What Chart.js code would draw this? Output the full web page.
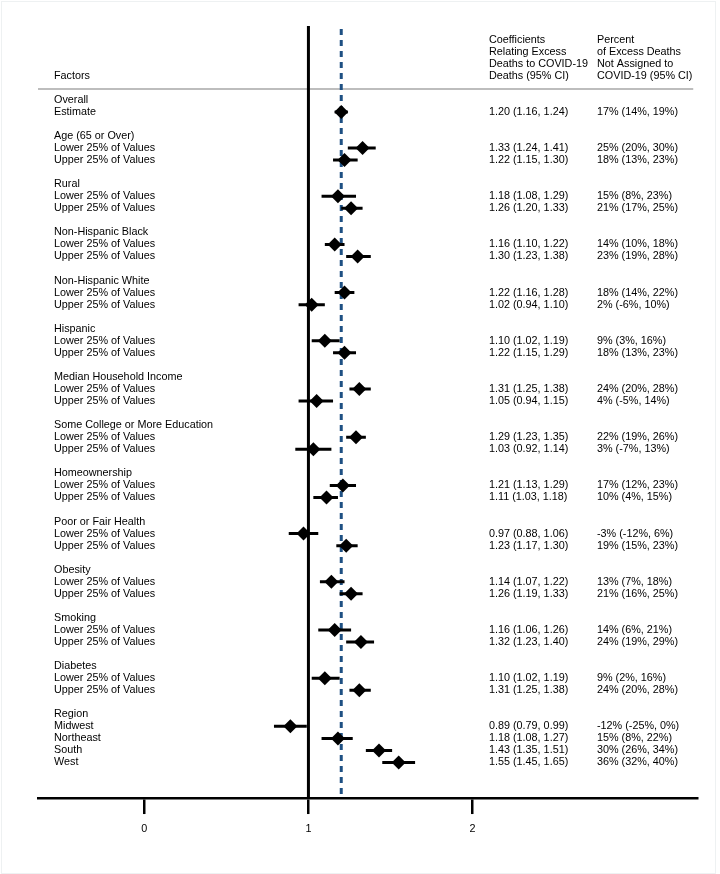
<!DOCTYPE html>
<html>
<head>
<meta charset="utf-8">
<script src="https://cdn.jsdelivr.net/npm/chart.js@4/dist/chart.umd.min.js"></script>
<style>
  html, body { margin: 0; padding: 0; background: #fff; }
  #wrap { position: relative; width: 720px; height: 874px; }
  #frame { position: absolute; left: 1px; top: 1px; width: 713px; height: 871px;
           border: 1px solid #eef1f2; pointer-events: none; }
</style>
</head>
<body>
<div id="wrap"><canvas id="forest" width="720" height="874"></canvas><div id="frame"></div></div>
<script>
/* ---------------- Data ---------------- */

const groupNames = ["Overall", "Age (65 or Over)", "Rural", "Non-Hispanic Black",
    "Non-Hispanic White", "Hispanic", "Median Household Income",
    "Some College or More Education", "Homeownership", "Poor or Fair Health",
    "Obesity", "Smoking", "Diabetes", "Region"];

const Q = ["Lower 25% of Values", "Upper 25% of Values"];
const rowNames = [["Estimate"], Q, Q, Q, Q, Q, Q, Q, Q, Q, Q, Q, Q,
    ["Midwest", "Northeast", "South", "West"]];

const coef = [[1.20], [1.33, 1.22], [1.18, 1.26], [1.16, 1.30], [1.22, 1.02],
    [1.10, 1.22], [1.31, 1.05], [1.29, 1.03], [1.21, 1.11], [0.97, 1.23],
    [1.14, 1.26], [1.16, 1.32], [1.10, 1.31], [0.89, 1.18, 1.43, 1.55]];
const coefLow = [[1.16], [1.24, 1.15], [1.08, 1.20], [1.10, 1.23], [1.16, 0.94],
    [1.02, 1.15], [1.25, 0.94], [1.23, 0.92], [1.13, 1.03], [0.88, 1.17],
    [1.07, 1.19], [1.06, 1.23], [1.02, 1.25], [0.79, 1.08, 1.35, 1.45]];
const coefHigh = [[1.24], [1.41, 1.30], [1.29, 1.33], [1.22, 1.38], [1.28, 1.10],
    [1.19, 1.29], [1.38, 1.15], [1.35, 1.14], [1.29, 1.18], [1.06, 1.30],
    [1.22, 1.33], [1.26, 1.40], [1.19, 1.38], [0.99, 1.27, 1.51, 1.65]];

const pct = [[17], [25, 18], [15, 21], [14, 23], [18, 2], [9, 18], [24, 4],
    [22, 3], [17, 10], [-3, 19], [13, 21], [14, 24], [9, 24], [-12, 15, 30, 36]];
const pctLow = [[14], [20, 13], [8, 17], [10, 19], [14, -6], [3, 13], [20, -5],
    [19, -7], [12, 4], [-12, 15], [7, 16], [6, 19], [2, 20], [-25, 8, 26, 32]];
const pctHigh = [[19], [30, 23], [23, 25], [18, 28], [22, 10], [16, 23], [28, 14],
    [26, 13], [23, 15], [6, 23], [18, 25], [21, 29], [16, 28], [0, 22, 34, 40]];

const xTicks = [0, 1, 2];

const factorsHeader = "Factors";
const coefHeader = ["Coefficients", "Relating Excess", "Deaths to COVID-19", "Deaths (95% CI)"];
const pctHeader = ["Percent", "of Excess Deaths", "Not Assigned to", "COVID-19 (95% CI)"];

/* ---------------- Layout of rows ---------------- */

const X_MIN = -0.648, X_MAX = 3.368;
const Y_MIN = -6.13, Y_MAX = 57.95;
const FONT = "10.8px 'Liberation Sans', Arial, Helvetica, sans-serif";

const textRows = [];   // {row, label, c1, c2}
const points = [];
const ciSegments = [];

let row = 0;
groupNames.forEach((name, g) => {
    textRows.push({ row: row, label: name });
    row++;
    rowNames[g].forEach((label, k) => {
        textRows.push({
            row: row,
            label: label,
            c1: coef[g][k].toFixed(2) + " (" + coefLow[g][k].toFixed(2) + ", " + coefHigh[g][k].toFixed(2) + ")",
            c2: pct[g][k] + "% (" + pctLow[g][k] + "%, " + pctHigh[g][k] + "%)"
        });
        points.push({ x: coef[g][k], y: row });
        ciSegments.push({ x: coefLow[g][k], y: row }, { x: coefHigh[g][k], y: row }, { x: null, y: null });
        row++;
    });
    row++;
});

const overall = coef[0][0];

/* ---------------- Text plugin ---------------- */

const textPlugin = {
    id: "forestText",
    afterDraw(chart) {
        const ctx = chart.ctx;
        const ys = chart.scales.y;
        ctx.save();
        ctx.font = FONT;
        ctx.fillStyle = "#000";
        ctx.textBaseline = "middle";
        ctx.textAlign = "left";

        ctx.fillText(factorsHeader, 54, ys.getPixelForValue(-2));
        coefHeader.forEach((t, i) => ctx.fillText(t, 489, ys.getPixelForValue(-5 + i)));
        pctHeader.forEach((t, i) => ctx.fillText(t, 597, ys.getPixelForValue(-5 + i)));

        textRows.forEach(r => {
            const y = ys.getPixelForValue(r.row);
            ctx.fillText(r.label, 54, y);
            if (r.c1) ctx.fillText(r.c1, 489, y);
            if (r.c2) ctx.fillText(r.c2, 597, y);
        });
        ctx.restore();
    }
};

/* ---------------- Chart ---------------- */

new Chart(document.getElementById("forest"), {
    type: "scatter",
    data: {
        datasets: [
            {
                data: points,
                pointStyle: "rectRot",
                pointRadius: 7,
                pointBackgroundColor: "#000",
                pointBorderWidth: 0,
                showLine: false
            },
            {
                data: ciSegments,
                showLine: true,
                spanGaps: false,
                borderColor: "#000",
                borderWidth: 3,
                pointRadius: 0
            },
            {
                data: [{ x: overall, y: Y_MIN + 0.25 }, { x: overall, y: Y_MAX }],
                showLine: true,
                borderColor: "#1e5083",
                borderWidth: 3,
                borderDash: [6, 5],
                pointRadius: 0
            },
            {
                data: [{ x: 1, y: Y_MIN }, { x: 1, y: Y_MAX }],
                showLine: true,
                borderColor: "#000",
                borderWidth: 3,
                pointRadius: 0
            },
            {
                data: [{ x: X_MIN, y: -0.9 }, { x: 3.345, y: -0.9 }],
                showLine: true,
                borderColor: "#bdbdbd",
                borderWidth: 2,
                pointRadius: 0
            }
        ]
    },
    options: {
        responsive: false,
        animation: false,
        layout: { padding: { left: 38, right: 23, top: 26, bottom: 29 } },
        plugins: {
            legend: { display: false },
            tooltip: { enabled: false }
        },
        scales: {
            x: {
                type: "linear",
                min: X_MIN,
                max: X_MAX,
                afterBuildTicks: scale => {
                    scale.ticks = xTicks.map(v => ({ value: v }));
                },
                grid: {
                    drawOnChartArea: false,
                    drawTicks: true,
                    tickLength: 16,
                    color: "#000",
                    lineWidth: 2.5
                },
                border: { display: true, color: "#000", width: 2.5 },
                ticks: {
                    color: "#000",
                    padding: 9,
                    font: { family: "'Liberation Sans', Arial, sans-serif", size: 10.8 },
                    callback: v => String(v)
                }
            },
            y: {
                type: "linear",
                display: false,
                reverse: true,
                min: Y_MIN,
                max: Y_MAX
            }
        }
    },
    plugins: [textPlugin]
});
</script>
</body>
</html>
